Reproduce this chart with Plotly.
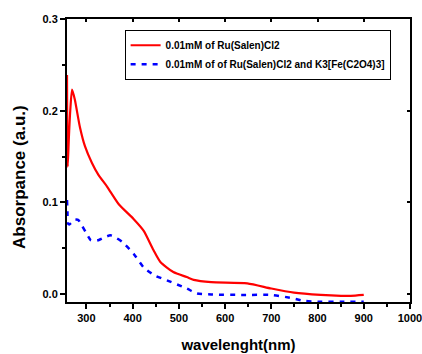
import plotly.graph_objects as go

# data
red_x = [258, 258.5, 259.5, 262, 265, 269, 275, 286, 297, 312, 326, 345, 370, 402, 424, 445, 460, 488, 517, 532, 570, 648, 700, 749, 807, 851, 872, 900]
red_y = [0.239, 0.18, 0.139, 0.17, 0.2, 0.223, 0.212, 0.182, 0.161, 0.143, 0.130, 0.117, 0.098, 0.082, 0.069, 0.048, 0.035, 0.024, 0.0185, 0.0155, 0.013, 0.0117, 0.006, 0.0015, -0.001, -0.002, -0.002, -0.001]

blue_x = [258, 259, 260, 263, 268, 275, 282, 290, 298, 309, 318, 327, 340, 352, 365, 377, 402, 424, 449, 474, 517, 539, 570, 640, 700, 740, 771, 808, 850, 900]
blue_y = [0.1025, 0.09, 0.077, 0.076, 0.078, 0.081, 0.081, 0.075, 0.068, 0.059, 0.058, 0.059, 0.062, 0.064, 0.061, 0.057, 0.044, 0.029, 0.020, 0.015, 0.006, 0.0007, -0.0005, -0.001, -0.001, -0.004, -0.0075, -0.0085, -0.0085, -0.0085]

red_name = "0.01mM of Ru(Salen)Cl2"
blue_name = "0.01mM of of Ru(Salen)Cl2 and K3[Fe(C2O4)3]"
x_title = "wavelenght(nm)"
y_title = "Absorpance (a.u.)"

x_range = [258, 1000.05]
y_range = [-0.0087, 0.3001]

FONT = "Liberation Sans, Arial, sans-serif"

fig = go.Figure()
fig.add_trace(go.Scatter(x=red_x, y=red_y, mode="lines", name=red_name,
                         line=dict(color="#ff0000", width=2.2, shape="spline", smoothing=0.6)))
fig.add_trace(go.Scatter(x=blue_x, y=blue_y, mode="lines", name=blue_name,
                         line=dict(color="#0000ff", width=2.5, dash="5px,6px", shape="spline", smoothing=0.6)))
# helper trace for mirrored top/right axes with inward ticks
fig.add_trace(go.Scatter(x=[], y=[], xaxis="x2", yaxis="y2", showlegend=False, hoverinfo="skip"))

axis_common = dict(showgrid=False, zeroline=False, showline=True, linecolor="black", linewidth=2,
                   tickcolor="black", tickwidth=2)

fig.update_layout(
    width=422, height=354,
    margin=dict(l=67, r=12, t=19, b=52),
    paper_bgcolor="white", plot_bgcolor="white",
    font=dict(family=FONT, color="black"),
    xaxis=dict(range=x_range, dtick=100, tick0=0, ticks="outside", ticklen=5,
               ticklabeloverflow="allow", automargin=False,
               minor=dict(dtick=50, tick0=0, ticks="outside", ticklen=3, tickcolor="black", tickwidth=1.5),
               tickfont=dict(size=11, weight="bold", family=FONT),
               title=dict(text=x_title, font=dict(size=15, weight="bold", family=FONT), standoff=16),
               **axis_common),
    yaxis=dict(range=y_range, dtick=0.1, tick0=0, tickformat=".1f", ticks="outside", ticklen=5,
               automargin=False,
               minor=dict(dtick=0.05, tick0=0, ticks="outside", ticklen=3, tickcolor="black", tickwidth=1.5),
               tickfont=dict(size=11, weight="bold", family=FONT),
               **axis_common),
    xaxis2=dict(range=x_range, overlaying="x", side="top", dtick=100, tick0=0, ticks="inside", ticklen=3,
                showticklabels=False, automargin=False, **axis_common),
    yaxis2=dict(range=y_range, overlaying="y", side="right", dtick=0.1, tick0=0, ticks="inside", ticklen=3,
                showticklabels=False, automargin=False, **axis_common),
    legend=dict(x=0.168, y=0.962, xanchor="left", yanchor="top",
                bordercolor="black", borderwidth=1, bgcolor="white",
                font=dict(size=10, weight="bold", family=FONT), tracegroupgap=0),
    showlegend=True,
    annotations=[dict(text=y_title, textangle=-90, xref="paper", yref="paper",
                      x=-0.137, y=0.442, xanchor="center", yanchor="middle", showarrow=False,
                      font=dict(size=17, weight="bold", family=FONT))],
)

fig.write_html("out.html")
